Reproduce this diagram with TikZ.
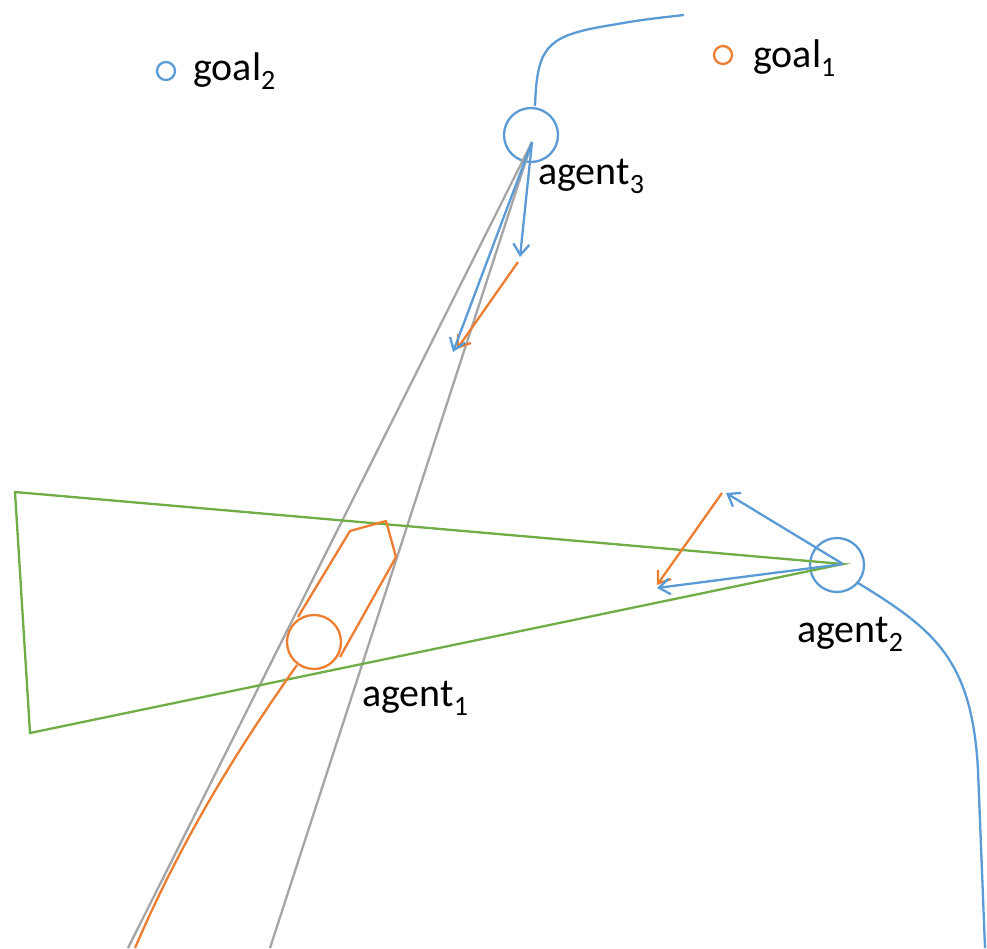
\documentclass[tikz,border=0pt]{standalone}
\usepackage{fontspec}
\setmainfont{Carlito}
\usetikzlibrary{arrows.meta}
\definecolor{oblue}{HTML}{5B9BD5}
\definecolor{oorange}{HTML}{ED7D31}
\definecolor{ogreen}{HTML}{70AD47}
\definecolor{ogray}{HTML}{A5A5A5}
\tikzset{
  ln/.style={line width=2.3pt},
  vec/.style={ln, -{Straight Barb[length=11pt,width=16pt,line width=2.3pt]}},
  agentc/.style={circle, draw, ln, minimum size=54pt, inner sep=0pt},
  goalc/.style={circle, draw, ln, minimum size=18pt, inner sep=0pt},
  lbl/.style={anchor=base west, inner sep=0pt, font=\fontsize{40}{48}\selectfont},
}
\begin{document}
\begin{tikzpicture}[x=1pt,y=-1pt]
\useasboundingbox (0,0) rectangle (987,948);
% goals
\node[goalc, oblue] (g2) at (166,71) {};
\node[lbl] (g2l) at (193,80) {goal\textsubscript{2}};
\node[goalc, oorange] (g1) at (723,55) {};
\node[lbl] (g1l) at (753,67) {goal\textsubscript{1}};
% agents
\node[agentc, oblue] (a3) at (531,135) {};
\node[lbl] (a3l) at (538,184) {agent\textsubscript{3}};
\node[agentc, oblue] (a2) at (837,565) {};
\node[lbl] (a2l) at (797,642) {agent\textsubscript{2}};
\node[agentc, oorange] (a1) at (314,642) {};
\node[lbl] (a1l) at (362,706) {agent\textsubscript{1}};
% coordinates
\coordinate (o3) at (532,142);
\coordinate (gL) at (128,948);
\coordinate (gR) at (270,948);
\coordinate (v3a) at (520,257);
\coordinate (v3b) at (453,352);
\coordinate (o3b) at (518,262);
\coordinate (v3c) at (457,349);
\coordinate (o2) at (843,564);
\coordinate (t1) at (15,492);
\coordinate (t2) at (30,733);
\coordinate (v2a) at (726,493);
\coordinate (v2b) at (657,588);
\coordinate (o2b) at (722,493);
\coordinate (v2c) at (657,585);
\coordinate (c3top) at (535,106);
\coordinate (c3end) at (684,15);
\coordinate (c2s) at (858,583);
\coordinate (c2end) at (985,948);
\coordinate (c1s) at (297,665);
\coordinate (c1end) at (135,948);
% velocity obstacle cone of agent3
\draw[ln, ogray] (gL) -- (o3) -- (gR);
% green triangle
\draw[ln, ogreen] (o2) -- (t1) -- (t2) -- cycle;
% blue paths
\draw[ln, oblue] (c3top) .. controls (537,50) and (545,37) .. (600,27) .. controls (640,20) .. (c3end);
\draw[ln, oblue] (c2s) .. controls (935,630) and (972,660) .. (978,770) -- (c2end);
% orange path and polygon
\draw[ln, oorange] (c1s) .. controls (255,725) and (190,820) .. (c1end);
\draw[ln, oorange, line join=round] (298,617) -- (350,531) -- (386,521) -- (396,557) -- (340,657);
% vectors
\draw[vec, oorange] (o3b) -- (v3c);
\draw[vec, oblue] (o3) -- (v3a);
\draw[vec, oblue] (o3) -- (v3b);
\draw[vec, oorange] (o2b) -- (v2c);
\draw[vec, oblue] (o2) -- (v2a);
\draw[vec, oblue] (o2) -- (v2b);
\end{tikzpicture}
\end{document}
